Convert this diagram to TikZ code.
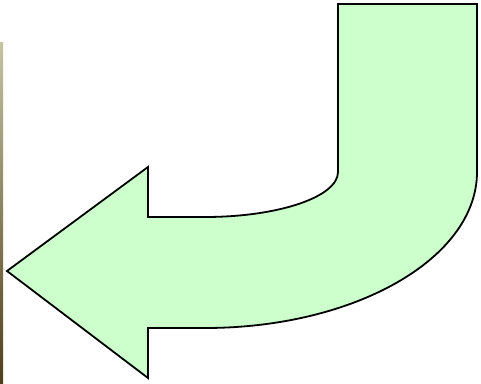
\documentclass[tikz,border=0pt]{standalone}
\usepackage{tikz}
\definecolor{paleleaf}{RGB}{204,255,204}
\definecolor{olivetop}{RGB}{196,196,160}
\definecolor{olivemid}{RGB}{165,170,60}
\definecolor{olivebot}{RGB}{80,62,30}
\tikzset{
  bentarrow/.style={fill=paleleaf, draw=black, line width=1.8pt, line join=miter}
}

\begin{document}
\begin{tikzpicture}[x=1pt,y=1pt]
    \useasboundingbox (0,0) rectangle (481,383);

    % photo edge on the left
    \shade[top color=olivetop, middle color=olivemid, bottom color=olivebot]
      (0,0) rectangle (3,340);

    % the bent arrow
    \def\cx{205}
    \def\cy{211}
    \draw[bentarrow]
      (338,379) -- (477,379) -- (477,\cy)
      arc[start angle=0, end angle=-90, x radius=272, y radius=156]
      -- (148,55) -- (148,5) -- (7,112) -- (148,216) -- (148,166)
      -- (\cx,166)
      arc[start angle=-90, end angle=0, x radius=133, y radius=45]
      -- cycle;
\end{tikzpicture}
\end{document}
